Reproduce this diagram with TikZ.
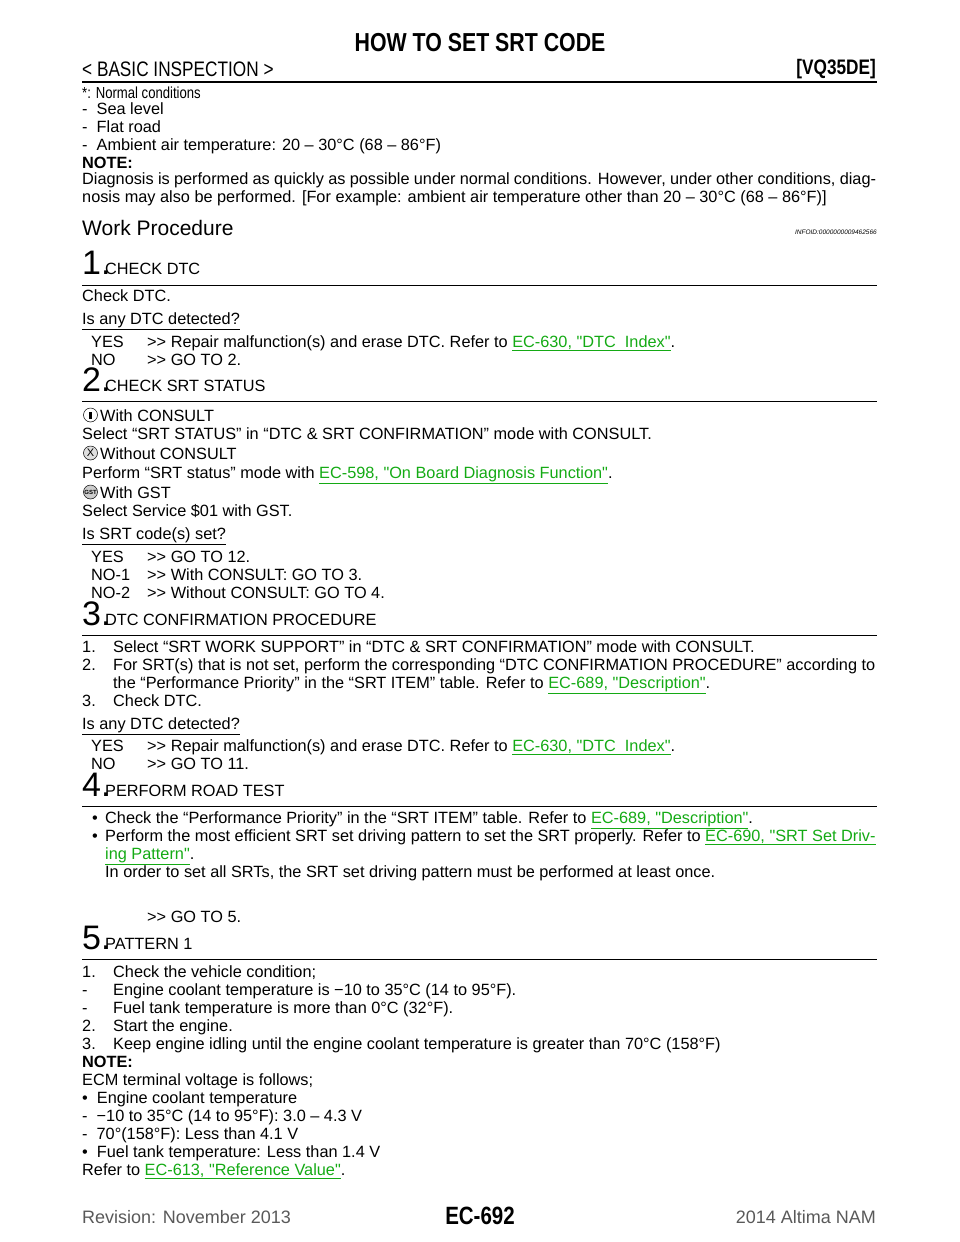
\documentclass[tikz,border=0pt]{standalone}
\usepackage{fontspec}
\setmainfont{Liberation Sans}
\newfontfamily\narrowf[FakeStretch=0.82]{Liberation Sans}
\definecolor{lnk}{RGB}{20,170,20}
\newcommand{\lk}[1]{\textcolor{lnk}{\underline{#1}}}
\newcommand{\q}{\textquotedbl}
\newcommand{\gt}{>{}>}
\newcommand{\Tx}[3]{\node[txt] at (#1,#2) {#3};}
\begin{document}
\begin{tikzpicture}[x=1pt,y=-1pt,
  txt/.style={anchor=base west,inner sep=0pt,font=\fontsize{16.3}{18}\selectfont},
  big/.style={anchor=base west,inner sep=0pt,font=\fontsize{34}{36}\selectfont},
  rulethin/.style={line width=0.8pt},
  icon/.style={circle,draw,line width=0.5pt,inner sep=0pt,minimum size=14pt,font=\fontsize{6}{6}\selectfont}]
\useasboundingbox (0,0) rectangle (960,1242);
% header
\node[anchor=base,inner sep=0pt,font=\narrowf\bfseries\fontsize{26}{28}\selectfont] (title) at (480,51) {HOW TO SET SRT CODE};
\node[anchor=base west,inner sep=0pt,font=\narrowf\fontsize{21}{22}\selectfont] (sec) at (82,76) {< BASIC INSPECTION >};
\node[anchor=base east,inner sep=0pt,font=\narrowf\bfseries\fontsize{21}{22}\selectfont] (eng) at (876,74) {[VQ35DE]};
\draw[line width=2.4pt] (82,82) -- (877,82);
\node[anchor=base west,inner sep=0pt,font=\narrowf\fontsize{16}{16}\selectfont] at (82,98) {*: Normal conditions};
\Tx{82}{114}{-\ \ Sea level}
\Tx{82}{132}{-\ \ Flat road}
\Tx{82}{150}{-\ \ Ambient air temperature: 20 – 30°C (68 – 86°F)}
\Tx{82}{168}{\bfseries NOTE:}
\node[txt,anchor=north west,text width=794pt,align=justify,font=\fontsize{16.3}{18}\selectfont] at (82,172) {Diagnosis is performed as quickly as possible under normal conditions. However, under other conditions, diagnosis may also be performed. [For example: ambient air temperature other than 20 – 30°C (68 – 86°F)]};
\node[txt,font=\fontsize{21}{22}\selectfont] at (82,235) {Work Procedure};
\node[anchor=base east,inner sep=0pt,font=\itshape\fontsize{6.5}{7}\selectfont] at (877,234) {INFOID:0000000009462566};
% 1
\node[big] at (82,274) {1.};
\Tx{105}{274}{CHECK DTC}
\draw[rulethin] (82,285) -- (877,285);
\Tx{82}{301}{Check DTC.}
\Tx{82}{324}{\underline{Is any DTC detected?}}
\Tx{91}{347}{YES} \Tx{147}{347}{\gt{} Repair malfunction(s) and erase DTC. Refer to \lk{EC-630, \q DTC\ \ Index\q}.}
\Tx{91}{365}{NO} \Tx{147}{365}{\gt{} GO TO 2.}
% 2
\node[big] at (82,391) {2.};
\Tx{105}{391}{CHECK SRT STATUS}
\draw[rulethin] (82,401) -- (877,401);
\node[icon] at (90.5,415) {\rule{3.5pt}{7pt}};
\Tx{100}{421}{With CONSULT}
\Tx{82}{439}{Select “SRT STATUS” in “DTC \& SRT CONFIRMATION” mode with CONSULT.}
\node[icon,fill=gray!25] at (90.5,453) {\fontsize{11}{11}\selectfont X};
\Tx{100}{459}{Without CONSULT}
\Tx{82}{478}{Perform “SRT status” mode with \lk{EC-598, \q On Board Diagnosis Function\q}.}
\node[icon,fill=gray!40] at (90.5,492) {\bfseries GST};
\Tx{100}{498}{With GST}
\Tx{82}{516}{Select Service \$01 with GST.}
\Tx{82}{539}{\underline{Is SRT code(s) set?}}
\Tx{91}{562}{YES} \Tx{147}{562}{\gt{} GO TO 12.}
\Tx{91}{580}{NO-1} \Tx{147}{580}{\gt{} With CONSULT: GO TO 3.}
\Tx{91}{598}{NO-2} \Tx{147}{598}{\gt{} Without CONSULT: GO TO 4.}
% 3
\node[big] at (82,625) {3.};
\Tx{105}{625}{DTC CONFIRMATION PROCEDURE}
\draw[rulethin] (82,635) -- (877,635);
\Tx{82}{652}{1.} \Tx{113}{652}{Select “SRT WORK SUPPORT” in “DTC \& SRT CONFIRMATION” mode with CONSULT.}
\Tx{82}{670}{2.} \Tx{113}{670}{For SRT(s) that is not set, perform the corresponding “DTC CONFIRMATION PROCEDURE” according to}
\Tx{113}{688}{the “Performance Priority” in the “SRT ITEM” table. Refer to \lk{EC-689, \q Description\q}.}
\Tx{82}{706}{3.} \Tx{113}{706}{Check DTC.}
\Tx{82}{729}{\underline{Is any DTC detected?}}
\Tx{91}{751}{YES} \Tx{147}{751}{\gt{} Repair malfunction(s) and erase DTC. Refer to \lk{EC-630, \q DTC\ \ Index\q}.}
\Tx{91}{769}{NO} \Tx{147}{769}{\gt{} GO TO 11.}
% 4
\node[big] at (82,796) {4.};
\Tx{105}{796}{PERFORM ROAD TEST}
\draw[rulethin] (82,806) -- (877,806);
\Tx{92}{823}{•} \Tx{105}{823}{Check the “Performance Priority” in the “SRT ITEM” table. Refer to \lk{EC-689, \q Description\q}.}
\Tx{92}{841}{•} \Tx{105}{841}{Perform the most efficient SRT set driving pattern to set the SRT properly. Refer to \lk{EC-690, \q SRT Set Driv-}}
\Tx{105}{859}{\lk{ing Pattern\q}.}
\Tx{105}{877}{In order to set all SRTs, the SRT set driving pattern must be performed at least once.}
\Tx{147}{922}{\gt{} GO TO 5.}
% 5
\node[big] at (82,949) {5.};
\Tx{105}{949}{PATTERN 1}
\draw[rulethin] (82,959) -- (877,959);
\Tx{82}{977}{1.} \Tx{113}{977}{Check the vehicle condition;}
\Tx{82}{995}{-} \Tx{113}{995}{Engine coolant temperature is −10 to 35°C (14 to 95°F).}
\Tx{82}{1013}{-} \Tx{113}{1013}{Fuel tank temperature is more than 0°C (32°F).}
\Tx{82}{1031}{2.} \Tx{113}{1031}{Start the engine.}
\Tx{82}{1049}{3.} \Tx{113}{1049}{Keep engine idling until the engine coolant temperature is greater than 70°C (158°F)}
\Tx{82}{1067}{\bfseries NOTE:}
\Tx{82}{1085}{ECM terminal voltage is follows;}
\Tx{82}{1103}{•\ \ Engine coolant temperature}
\Tx{82}{1121}{-\ \ −10 to 35°C (14 to 95°F): 3.0 – 4.3 V}
\Tx{82}{1139}{-\ \ 70°(158°F): Less than 4.1 V}
\Tx{82}{1157}{•\ \ Fuel tank temperature: Less than 1.4 V}
\Tx{82}{1175}{Refer to \lk{EC-613, \q Reference Value\q}.}
% footer
\node[anchor=base west,inner sep=0pt,font=\fontsize{18}{19}\selectfont,text=gray!70!black] at (82,1223) {Revision: November 2013};
\node[anchor=base,inner sep=0pt,font=\narrowf\bfseries\fontsize{25}{26}\selectfont] at (480,1224) {EC-692};
\node[anchor=base east,inner sep=0pt,font=\fontsize{18}{19}\selectfont,text=gray!70!black] at (876,1223) {2014 Altima NAM};
\end{tikzpicture}
\end{document}
